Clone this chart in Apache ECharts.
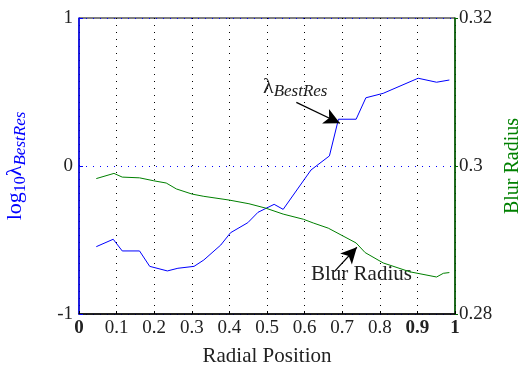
<!DOCTYPE html>
<html>
<head>
<meta charset="utf-8">
<script src="https://cdn.jsdelivr.net/npm/echarts@6/dist/echarts.min.js"></script>
<style>
  html, body { margin: 0; padding: 0; background: #fff; }
  #chart { width: 518px; height: 367px; }
</style>
</head>
<body>
<div id="chart"></div>
<script>
// radial positions and values
const lambdaX = [0.046, 0.091, 0.115, 0.161, 0.188, 0.235, 0.263, 0.306, 0.332, 0.377, 0.403, 0.449, 0.476, 0.519, 0.543, 0.617, 0.666, 0.690, 0.737, 0.763, 0.809, 0.902, 0.951, 0.985];
const lambdaY = [-0.545, -0.495, -0.574, -0.574, -0.678, -0.709, -0.691, -0.678, -0.635, -0.534, -0.451, -0.383, -0.313, -0.259, -0.293, -0.027, 0.068, 0.316, 0.316, 0.461, 0.491, 0.593, 0.566, 0.581];

const blurX = [0.046, 0.093, 0.115, 0.161, 0.199, 0.232, 0.259, 0.301, 0.332, 0.399, 0.452, 0.497, 0.543, 0.597, 0.623, 0.663, 0.737, 0.761, 0.809, 0.880, 0.951, 0.969, 0.985];
const blurY = [0.2983, 0.2990, 0.2985, 0.2984, 0.2980, 0.2977, 0.2969, 0.2962, 0.2959, 0.2954, 0.2949, 0.2943, 0.2935, 0.2928, 0.2923, 0.2916, 0.2896, 0.2883, 0.2869, 0.2857, 0.2850, 0.2855, 0.2856];

const xTicks = ['0', '0.1', '0.2', '0.3', '0.4', '0.5', '0.6', '0.7', '0.8', '0.9', '1'];
const boldTicks = ['0', '0.9', '1'];

// annotation arrows, in data units of the left axis
const lambdaArrow = [[0.578, 0.43], [0.694, 0.289]];
const blurArrow = [[0.679, -0.714], [0.739, -0.549]];

const serif = '"Liberation Serif", "DejaVu Serif", serif';

const chart = echarts.init(document.getElementById('chart'));

const option = {
  backgroundColor: '#fff',
  animation: false,
  textStyle: { fontFamily: serif },
  grid: {
    left: 79, right: 63, top: 18, bottom: 53,
    outerBoundsMode: 'none', containLabel: false,
    show: true, borderColor: '#000', borderWidth: 1
  },
  xAxis: {
    type: 'value', min: 0, max: 1, interval: 0.1,
    name: 'Radial Position', nameLocation: 'middle', nameGap: 32,
    nameTextStyle: { fontFamily: serif, fontSize: 21, color: '#222' },
    axisLine: { show: true, onZero: false, lineStyle: { color: '#000', width: 1.5 } },
    axisTick: { inside: true, length: 3, lineStyle: { color: '#000' } },
    axisLabel: {
      margin: 5, fontFamily: serif, fontSize: 19, color: '#222',
      formatter: function (v) {
        const s = xTicks[Math.round(v * 10)];
        return boldTicks.indexOf(s) >= 0 ? '{b|' + s + '}' : s;
      },
      rich: { b: { fontWeight: 'bold', fontSize: 19, fontFamily: serif, color: '#222' } }
    },
    splitLine: { show: true, lineStyle: { color: '#000', type: [1, 6], width: 1 } }
  },
  yAxis: [
    {
      type: 'value', min: -1, max: 1, interval: 1, position: 'left',
      name: '{n|log}{s|10}{n|λ}{i|BestRes}',
      nameLocation: 'middle', nameGap: 50, nameRotate: 90,
      nameTextStyle: {
        color: '#0000ff',
        rich: {
          n: { fontFamily: serif, fontSize: 22, color: '#0000ff' },
          s: { fontFamily: serif, fontSize: 16, color: '#0000ff', verticalAlign: 'bottom', padding: [10, 0, 0, 0] },
          i: { fontFamily: serif, fontSize: 17, fontStyle: 'italic', color: '#0000ff', verticalAlign: 'bottom', padding: [10, 0, 0, 0] }
        }
      },
      axisLine: { show: true, lineStyle: { color: '#0000ff', width: 1.5 } },
      axisTick: { inside: true, length: 4, lineStyle: { color: '#0000ff' } },
      axisLabel: { margin: 6, fontFamily: serif, fontSize: 19, color: '#222' },
      splitLine: { show: true, lineStyle: { color: '#0000ff', type: [1, 6], width: 1 } }
    },
    {
      type: 'value', min: 0.28, max: 0.32, interval: 0.02, position: 'right',
      name: 'Blur Radius', nameLocation: 'middle', nameGap: 48, nameRotate: 90,
      nameTextStyle: { fontFamily: serif, fontSize: 20, color: '#008000' },
      axisLine: { show: true, lineStyle: { color: '#006400', width: 1.5 } },
      axisTick: { inside: false, length: 3, lineStyle: { color: '#006400' } },
      axisLabel: {
        margin: 4, fontFamily: serif, fontSize: 19, color: '#222',
        formatter: function (v) { return String(+v.toFixed(2)); }
      },
      splitLine: { show: false }
    }
  ],
  series: [
    {
      name: 'lambda', type: 'line', yAxisIndex: 0,
      data: lambdaX.map((x, i) => [x, lambdaY[i]]),
      showSymbol: false, lineStyle: { color: '#0000ff', width: 1 },
      markLine: {
        silent: true, symbol: ['none', 'arrow'], symbolSize: [12, 16],
        lineStyle: { color: '#000', width: 1.2, type: 'solid' },
        label: { show: false },
        data: [
          [{ coord: lambdaArrow[0] }, { coord: lambdaArrow[1] }],
          [{ coord: blurArrow[0] }, { coord: blurArrow[1] }]
        ]
      }
    },
    {
      name: 'blur', type: 'line', yAxisIndex: 1,
      data: blurX.map((x, i) => [x, blurY[i]]),
      showSymbol: false, lineStyle: { color: '#008000', width: 1 }
    }
  ],
  graphic: [
    {
      type: 'text', left: 263, top: 76,
      style: {
        text: '{n|λ}{i|BestRes}',
        rich: {
          n: { fontFamily: serif, fontSize: 22, fill: '#222' },
          i: { fontFamily: serif, fontSize: 17, fontStyle: 'italic', fill: '#222', verticalAlign: 'bottom', padding: [10, 0, 0, 0] }
        }
      }
    },
    {
      type: 'text', left: 311, top: 264,
      style: { text: 'Blur Radius', fontFamily: serif, fontSize: 21, fill: '#222' }
    }
  ]
};

chart.setOption(option);
</script>
</body>
</html>
